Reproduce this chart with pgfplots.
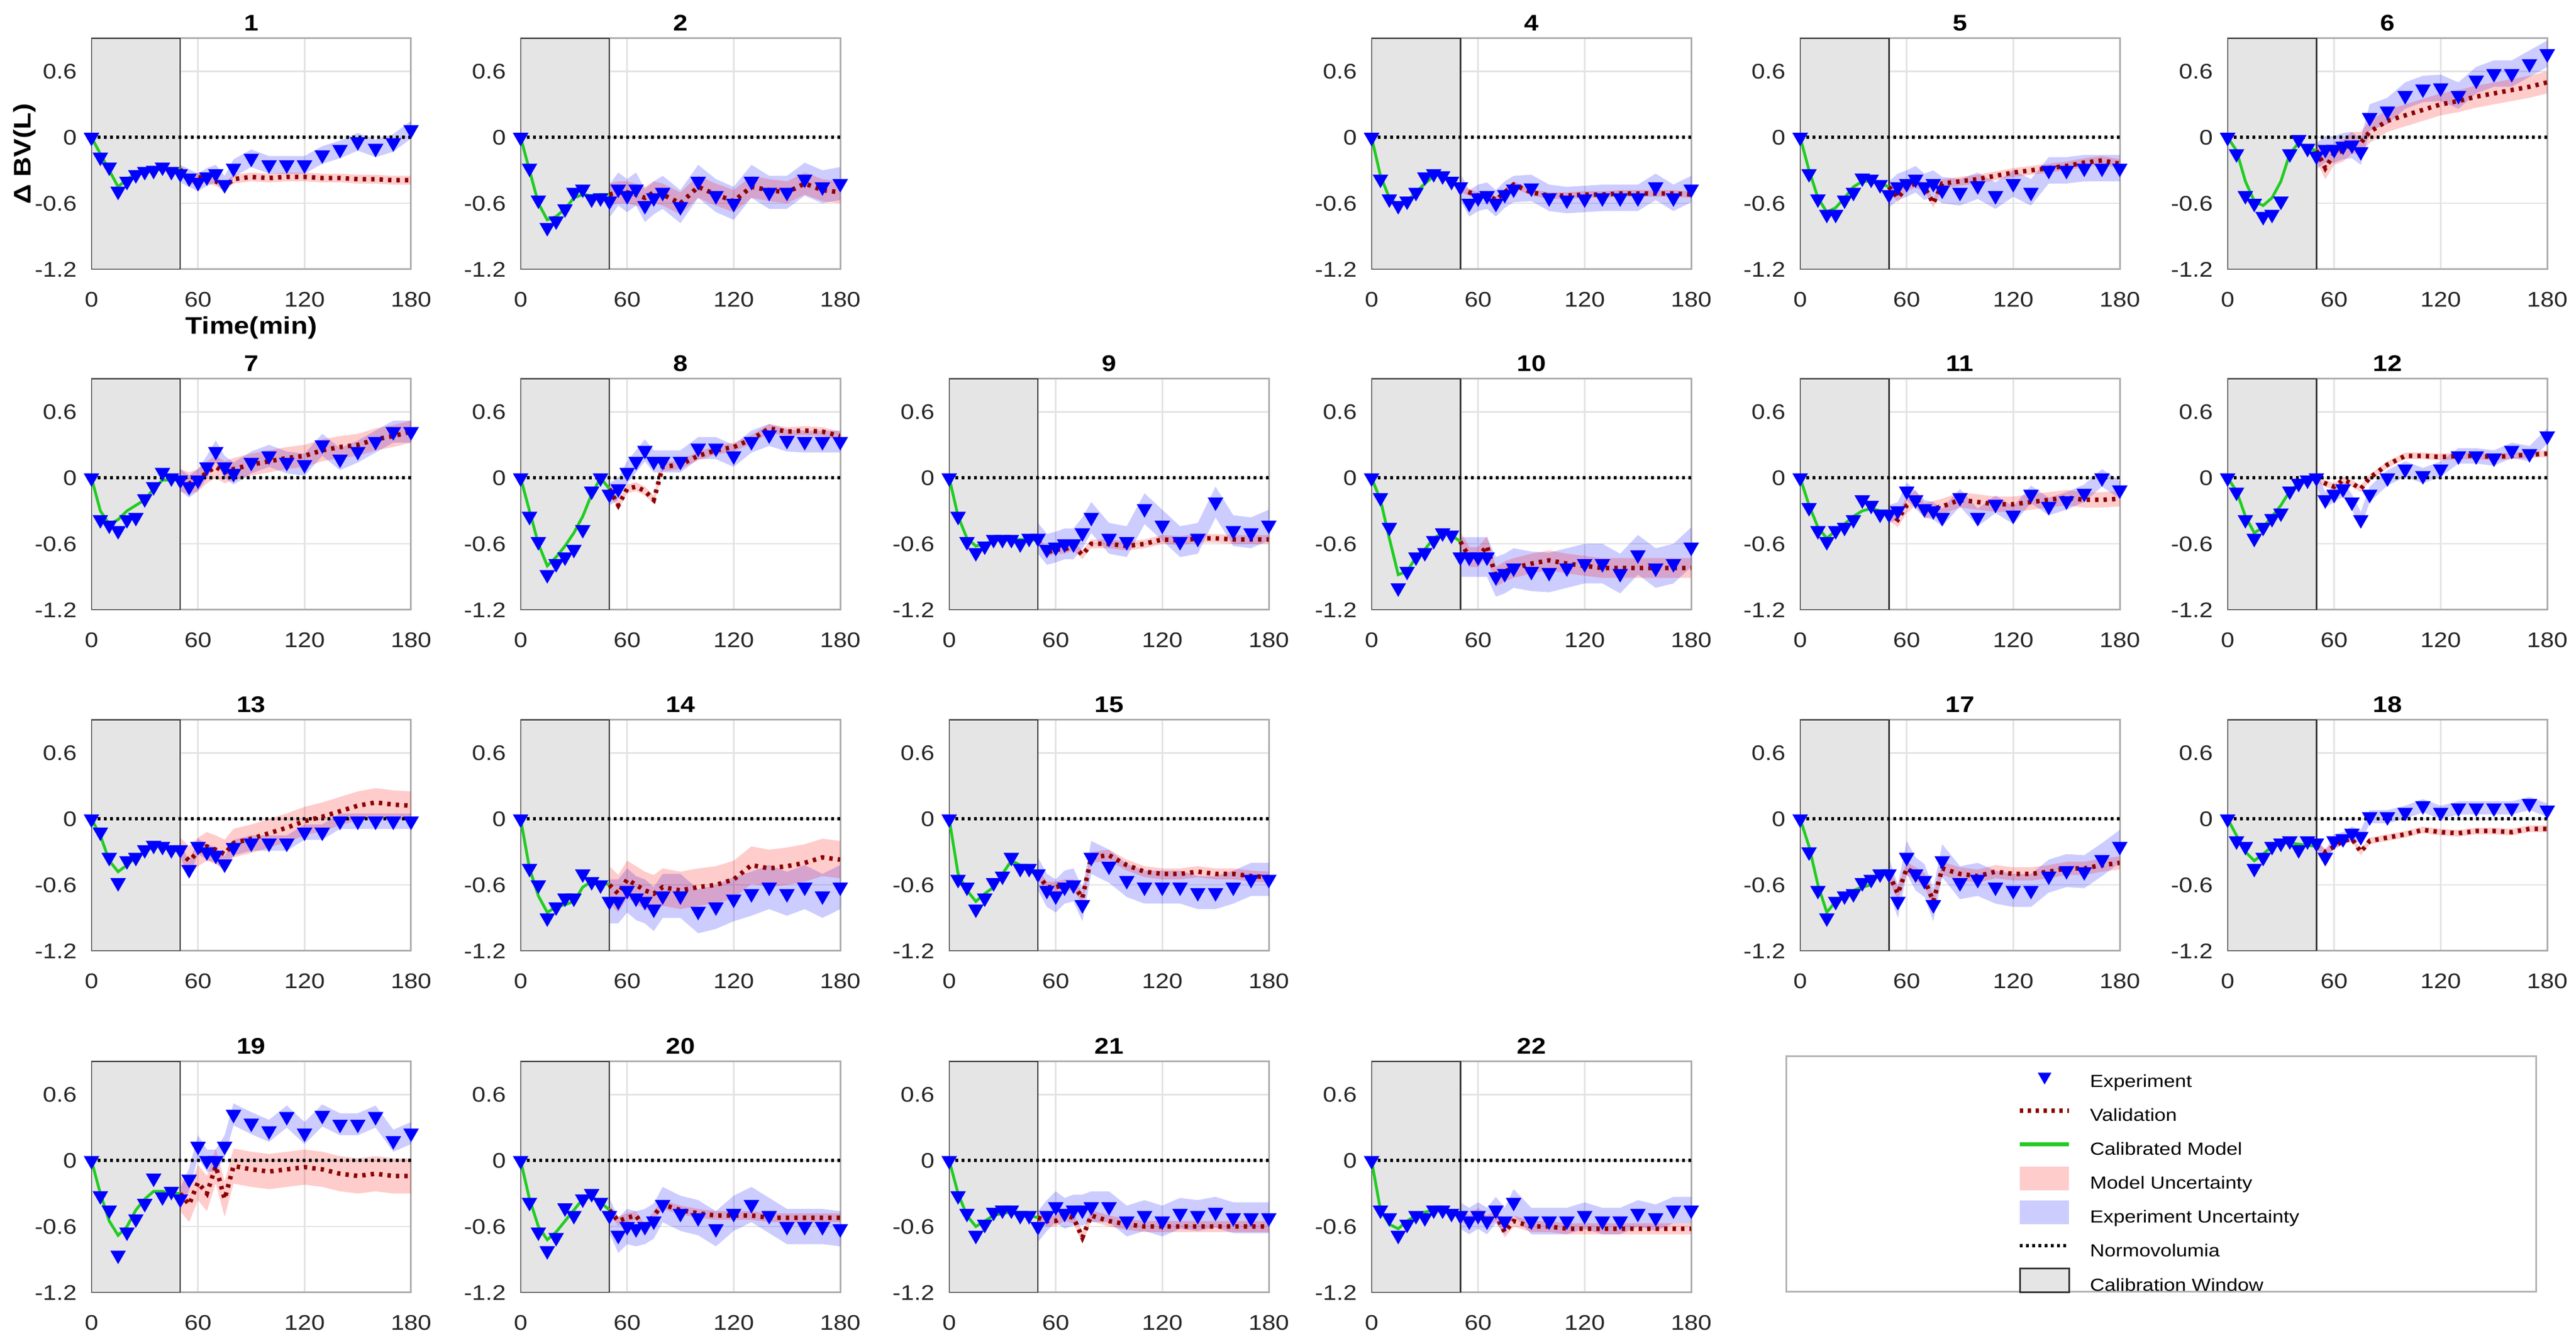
\documentclass[border=0pt]{standalone}
\usepackage{fontspec}
\setmainfont{Liberation Sans}[FakeStretch=1.15]
\usepackage{pgfplots}
\pgfplotsset{compat=1.18}
\usepackage{pgfplotstable}
\usepgfplotslibrary{fillbetween}
\definecolor{calgreen}{rgb}{0.13,0.8,0.13}
\definecolor{valred}{rgb}{0.55,0,0}
\definecolor{wingray}{gray}{0.9}
\definecolor{tickgray}{gray}{0.15}

\pgfplotstableread[row sep=\\]{t e m\\
0 0 0\\5 -.18 -.15\\10 -.27 -.30\\15 -.49 -.45\\20 -.40 -.38\\25 -.34 -.33\\30 -.31 -.31\\35 -.30 -.30\\40 -.27 -.29\\45 -.31 -.29\\50 -.33 -.29\\55 -.37 -.40\\60 -.41 -.36\\65 -.36 -.38\\70 -.33 -.40\\75 -.43 -.45\\80 -.28 -.38\\90 -.19 -.36\\100 -.25 -.37\\110 -.25 -.36\\120 -.25 -.36\\130 -.16 -.37\\140 -.11 -.37\\150 -.04 -.38\\160 -.10 -.38\\170 -.05 -.39\\180 .07 -.39\\
}\tabA
\pgfplotstableread[row sep=\\]{t e m\\
0 0 0\\5 -.28 -.30\\10 -.57 -.60\\15 -.82 -.75\\20 -.76 -.72\\25 -.65 -.65\\30 -.50 -.55\\35 -.47 -.52\\40 -.56 -.53\\45 -.55 -.52\\50 -.58 -.52\\55 -.47 -.50\\60 -.53 -.50\\65 -.47 -.52\\70 -.62 -.55\\75 -.55 -.50\\80 -.50 -.52\\90 -.63 -.60\\100 -.40 -.45\\110 -.53 -.52\\120 -.60 -.58\\130 -.40 -.45\\140 -.50 -.48\\150 -.50 -.50\\160 -.38 -.42\\170 -.45 -.48\\180 -.42 -.50\\
}\tabB
\pgfplotstableread[row sep=\\]{t e m\\
0 0 0\\5 -.38 -.35\\10 -.56 -.55\\15 -.62 -.62\\20 -.58 -.58\\25 -.50 -.50\\30 -.36 -.42\\35 -.33 -.35\\40 -.35 -.33\\45 -.40 -.40\\50 -.45 -.47\\55 -.60 -.50\\60 -.55 -.53\\65 -.53 -.52\\70 -.60 -.57\\75 -.52 -.50\\80 -.47 -.43\\90 -.46 -.50\\100 -.55 -.53\\110 -.57 -.53\\120 -.56 -.52\\130 -.55 -.52\\140 -.55 -.51\\150 -.55 -.51\\160 -.45 -.51\\170 -.55 -.51\\180 -.47 -.52\\
}\tabD
\pgfplotstableread[row sep=\\]{t e m\\
0 0 0\\5 -.33 -.30\\10 -.56 -.55\\15 -.70 -.68\\20 -.70 -.64\\25 -.57 -.55\\30 -.50 -.45\\35 -.37 -.40\\40 -.38 -.40\\45 -.43 -.42\\50 -.52 -.45\\55 -.45 -.55\\60 -.42 -.45\\65 -.38 -.42\\70 -.45 -.45\\75 -.42 -.60\\80 -.48 -.42\\90 -.50 -.40\\100 -.44 -.38\\110 -.53 -.35\\120 -.42 -.32\\130 -.50 -.30\\140 -.30 -.28\\150 -.30 -.26\\160 -.28 -.23\\170 -.28 -.21\\180 -.28 -.24\\
}\tabE
\pgfplotstableread[row sep=\\]{t e m\\
0 0 0\\5 -.15 -.12\\10 -.53 -.40\\15 -.60 -.58\\20 -.72 -.62\\25 -.70 -.55\\30 -.58 -.40\\35 -.15 -.15\\40 -.02 -.05\\45 -.10 -.10\\50 -.17 -.12\\55 -.11 -.28\\60 -.11 -.15\\65 -.08 -.12\\70 -.07 -.05\\75 -.13 -.05\\80 .18 .05\\90 .24 .15\\100 .38 .20\\110 .44 .25\\120 .45 .30\\130 .38 .33\\140 .52 .37\\150 .58 .40\\160 .58 .43\\170 .67 .46\\180 .76 .50\\
}\tabF
\pgfplotstableread[row sep=\\]{t e m\\
0 0 0\\5 -.38 -.30\\10 -.43 -.42\\15 -.48 -.38\\20 -.38 -.30\\25 -.36 -.25\\30 -.19 -.20\\35 -.08 -.10\\40 .05 -.02\\45 0 -.02\\50 -.02 -.02\\55 -.08 -.05\\60 -.02 -.02\\65 .10 .05\\70 .24 .10\\75 .10 .05\\80 .04 .08\\90 .14 .12\\100 .20 .15\\110 .14 .18\\120 .12 .20\\130 .30 .25\\140 .17 .28\\150 .24 .30\\160 .33 .35\\170 .42 .38\\180 .42 .42\\
}\tabG
\pgfplotstableread[row sep=\\]{t e m\\
0 0 0\\5 -.35 -.30\\10 -.58 -.60\\15 -.88 -.80\\20 -.78 -.72\\25 -.72 -.62\\30 -.65 -.50\\35 -.47 -.35\\40 -.12 -.15\\45 0 0\\50 -.15 -.10\\55 -.10 -.25\\60 .05 -.10\\65 .15 -.08\\70 .25 -.12\\75 .15 -.20\\80 .15 .10\\90 .15 .12\\100 .27 .20\\110 .27 .25\\120 .20 .28\\130 .33 .35\\140 .39 .45\\150 .34 .42\\160 .33 .43\\170 .33 .42\\180 .33 .38\\
}\tabH
\pgfplotstableread[row sep=\\]{t e m\\
0 0 0\\5 -.35 -.35\\10 -.58 -.55\\15 -.68 -.62\\20 -.62 -.60\\25 -.56 -.57\\30 -.56 -.56\\35 -.56 -.56\\40 -.60 -.56\\45 -.55 -.56\\50 -.55 -.57\\55 -.65 -.68\\60 -.63 -.65\\65 -.60 -.65\\70 -.60 -.62\\75 -.50 -.70\\80 -.36 -.60\\90 -.55 -.60\\100 -.58 -.62\\110 -.28 -.60\\120 -.43 -.56\\130 -.58 -.57\\140 -.55 -.55\\150 -.22 -.55\\160 -.48 -.56\\170 -.50 -.56\\180 -.43 -.56\\
}\tabI
\pgfplotstableread[row sep=\\]{t e m\\
0 0 0\\5 -.18 -.20\\10 -.45 -.55\\15 -1.00 -.88\\20 -.85 -.85\\25 -.72 -.72\\30 -.68 -.65\\35 -.57 -.55\\40 -.50 -.50\\45 -.52 -.52\\50 -.72 -.58\\55 -.72 -.72\\60 -.72 -.72\\65 -.72 -.62\\70 -.90 -.90\\75 -.87 -.85\\80 -.82 -.82\\90 -.85 -.78\\100 -.86 -.75\\110 -.82 -.78\\120 -.78 -.80\\130 -.78 -.82\\140 -.87 -.82\\150 -.70 -.82\\160 -.82 -.82\\170 -.78 -.82\\180 -.63 -.82\\
}\tabJ
\pgfplotstableread[row sep=\\]{t e m\\
0 0 0\\5 -.27 -.25\\10 -.48 -.45\\15 -.58 -.55\\20 -.48 -.48\\25 -.45 -.42\\30 -.38 -.35\\35 -.20 -.30\\40 -.25 -.28\\45 -.33 -.30\\50 -.33 -.32\\55 -.30 -.38\\60 -.12 -.25\\65 -.20 -.18\\70 -.28 -.30\\75 -.30 -.28\\80 -.36 -.26\\90 -.18 -.20\\100 -.36 -.22\\110 -.24 -.24\\120 -.34 -.24\\130 -.15 -.22\\140 -.26 -.20\\150 -.21 -.18\\160 -.14 -.20\\170 0 -.20\\180 -.11 -.19\\
}\tabK
\pgfplotstableread[row sep=\\]{t e m\\
0 0 0\\5 -.13 -.12\\10 -.38 -.35\\15 -.55 -.50\\20 -.45 -.45\\25 -.37 -.35\\30 -.32 -.25\\35 -.12 -.12\\40 -.05 -.05\\45 -.02 -.02\\50 0 -.01\\55 -.20 -.05\\60 -.15 -.08\\65 -.10 -.02\\70 -.22 -.05\\75 -.38 -.10\\80 -.15 0\\90 0 .12\\100 .08 .20\\110 .02 .20\\120 .08 .19\\130 .20 .20\\140 .20 .20\\150 .18 .19\\160 .25 .20\\170 .22 .21\\180 .38 .22\\
}\tabL
\pgfplotstableread[row sep=\\]{t e m\\
0 0 0\\5 -.12 -.15\\10 -.35 -.38\\15 -.58 -.48\\20 -.38 -.42\\25 -.35 -.35\\30 -.28 -.30\\35 -.24 -.25\\40 -.25 -.25\\45 -.28 -.28\\50 -.28 -.30\\55 -.46 -.38\\60 -.25 -.30\\65 -.30 -.25\\70 -.33 -.28\\75 -.41 -.32\\80 -.26 -.22\\90 -.22 -.18\\100 -.22 -.13\\110 -.22 -.08\\120 -.12 -.02\\130 -.12 .02\\140 -.02 .07\\150 -.02 .12\\160 -.02 .15\\170 -.02 .13\\180 -.02 .12\\
}\tabM
\pgfplotstableread[row sep=\\]{t e m\\
0 0 0\\5 -.45 -.45\\10 -.60 -.70\\15 -.90 -.85\\20 -.80 -.80\\25 -.72 -.78\\30 -.72 -.75\\35 -.50 -.62\\40 -.57 -.57\\45 -.60 -.57\\50 -.75 -.60\\55 -.75 -.68\\60 -.65 -.55\\65 -.72 -.60\\70 -.75 -.65\\75 -.82 -.68\\80 -.70 -.62\\90 -.70 -.65\\100 -.84 -.62\\110 -.80 -.60\\120 -.73 -.55\\130 -.68 -.42\\140 -.62 -.45\\150 -.68 -.43\\160 -.62 -.40\\170 -.70 -.35\\180 -.62 -.37\\
}\tabN
\pgfplotstableread[row sep=\\]{t e m\\
0 0 0\\5 -.55 -.50\\10 -.62 -.65\\15 -.82 -.75\\20 -.72 -.68\\25 -.58 -.62\\30 -.52 -.50\\35 -.35 -.38\\40 -.45 -.42\\45 -.45 -.48\\50 -.50 -.50\\55 -.65 -.62\\60 -.70 -.62\\65 -.62 -.60\\70 -.60 -.60\\75 -.78 -.72\\80 -.35 -.35\\90 -.43 -.33\\100 -.56 -.42\\110 -.62 -.48\\120 -.62 -.50\\130 -.62 -.50\\140 -.67 -.48\\150 -.67 -.50\\160 -.62 -.50\\170 -.55 -.52\\180 -.55 -.53\\
}\tabO
\pgfplotstableread[row sep=\\]{t e m\\
0 0 0\\5 -.30 -.25\\10 -.65 -.60\\15 -.90 -.85\\20 -.75 -.75\\25 -.70 -.68\\30 -.68 -.65\\35 -.58 -.62\\40 -.55 -.60\\45 -.50 -.48\\50 -.50 -.50\\55 -.75 -.68\\60 -.35 -.45\\65 -.50 -.50\\70 -.56 -.55\\75 -.78 -.75\\80 -.38 -.45\\90 -.58 -.50\\100 -.55 -.52\\110 -.62 -.48\\120 -.65 -.50\\130 -.65 -.50\\140 -.52 -.48\\150 -.47 -.45\\160 -.48 -.45\\170 -.37 -.42\\180 -.25 -.40\\
}\tabQ
\pgfplotstableread[row sep=\\]{t e m\\
0 0 0\\5 -.20 -.15\\10 -.25 -.30\\15 -.45 -.38\\20 -.35 -.32\\25 -.25 -.25\\30 -.22 -.22\\35 -.20 -.22\\40 -.28 -.23\\45 -.20 -.24\\50 -.22 -.25\\55 -.35 -.30\\60 -.20 -.25\\65 -.18 -.20\\70 -.13 -.18\\75 -.16 -.30\\80 .02 -.20\\90 .02 -.17\\100 .06 -.14\\110 .12 -.10\\120 .06 -.12\\130 .10 -.13\\140 .10 -.11\\150 .10 -.11\\160 .10 -.12\\170 .14 -.09\\180 .08 -.09\\
}\tabR
\pgfplotstableread[row sep=\\]{t e m\\
0 0 0\\5 -.32 -.30\\10 -.45 -.55\\15 -.86 -.68\\20 -.65 -.60\\25 -.53 -.45\\30 -.39 -.35\\35 -.16 -.28\\40 -.33 -.28\\45 -.28 -.30\\50 -.35 -.30\\55 -.17 -.40\\60 .13 -.20\\65 0 -.30\\70 0 -.05\\75 .13 -.35\\80 .42 -.05\\90 .34 -.08\\100 .27 -.10\\110 .40 -.08\\120 .25 -.06\\130 .41 -.08\\140 .33 -.12\\150 .33 -.14\\160 .40 -.12\\170 .18 -.14\\180 .25 -.14\\
}\tabS
\pgfplotstableread[row sep=\\]{t e m\\
0 0 0\\5 -.38 -.35\\10 -.65 -.60\\15 -.82 -.72\\20 -.70 -.65\\25 -.43 -.55\\30 -.50 -.45\\35 -.35 -.35\\40 -.30 -.33\\45 -.38 -.38\\50 -.50 -.45\\55 -.68 -.55\\60 -.60 -.52\\65 -.62 -.50\\70 -.60 -.62\\75 -.55 -.50\\80 -.40 -.40\\90 -.48 -.45\\100 -.52 -.48\\110 -.62 -.50\\120 -.48 -.50\\130 -.40 -.50\\140 -.50 -.52\\150 -.60 -.52\\160 -.60 -.52\\170 -.60 -.52\\180 -.62 -.52\\
}\tabT
\pgfplotstableread[row sep=\\]{t e m\\
0 0 0\\5 -.32 -.30\\10 -.48 -.50\\15 -.68 -.60\\20 -.58 -.55\\25 -.47 -.50\\30 -.45 -.48\\35 -.45 -.47\\40 -.50 -.47\\45 -.50 -.50\\50 -.60 -.52\\55 -.50 -.55\\60 -.42 -.55\\65 -.48 -.50\\70 -.45 -.52\\75 -.45 -.70\\80 -.42 -.50\\90 -.42 -.55\\100 -.55 -.58\\110 -.50 -.60\\120 -.55 -.60\\130 -.48 -.60\\140 -.50 -.60\\150 -.47 -.60\\160 -.52 -.60\\170 -.52 -.60\\180 -.52 -.60\\
}\tabU
\pgfplotstableread[row sep=\\]{t e m\\
0 0 0\\5 -.45 -.45\\10 -.52 -.58\\15 -.68 -.62\\20 -.58 -.55\\25 -.50 -.50\\30 -.52 -.47\\35 -.45 -.45\\40 -.45 -.45\\45 -.48 -.48\\50 -.50 -.50\\55 -.55 -.55\\60 -.50 -.48\\65 -.55 -.55\\70 -.45 -.50\\75 -.55 -.65\\80 -.38 -.55\\90 -.55 -.60\\100 -.55 -.60\\110 -.55 -.62\\120 -.50 -.62\\130 -.55 -.62\\140 -.55 -.62\\150 -.48 -.62\\160 -.52 -.62\\170 -.45 -.62\\180 -.45 -.62\\
}\tabV

\pgfplotsset{
  every axis title shift=0pt,
  panel/.style={
    scale only axis, width=113.2pt, height=81.8pt, anchor=north west,
    xmin=0, xmax=180, ymin=-1.2, ymax=0.9,
    xtick={0,60,120,180}, xticklabels={0,60,120,180},
    ytick={-1.2,-0.6,0,0.6}, yticklabels={-1.2,-0.6,0,0.6},
    grid=major, major grid style={gray!22, line width=0.5pt},
    axis line style={gray!65, line width=0.6pt},
    tick style={draw=none},
    tick label style={font=\fontsize{7.5}{9}\selectfont, text=tickgray},
    xticklabel style={yshift=-4.5pt},
    yticklabel style={xshift=-1.7pt},
    title style={font=\bfseries\fontsize{8}{9.6}\selectfont, inner sep=2.4pt},
  }
}

% [#1] extra options, #2 title, #3 position, #4 table, #5 exp half width, #6 model half width
\newcommand{\panel}[6][]{%
\begin{axis}[panel, at={(#3)}, title={#2}, #1]
\addplot[fill=wingray, draw=black!80, line width=0.5pt] coordinates {(0,-1.2) (0,0.9) (50,0.9) (50,-1.2)} -- cycle;
\addplot[name path=eu, draw=none] table[x=t, y expr=\thisrow{e}+#5] {#4};
\addplot[name path=el, draw=none] table[x=t, y expr=\thisrow{e}-#5] {#4};
\addplot[fill=blue, fill opacity=0.2, draw=none] fill between[of=eu and el];
\addplot[name path=mu, draw=none, restrict x to domain=50:180] table[x=t, y expr=\thisrow{m}+#6] {#4};
\addplot[name path=ml, draw=none, restrict x to domain=50:180] table[x=t, y expr=\thisrow{m}-#6] {#4};
\addplot[fill=red, fill opacity=0.2, draw=none] fill between[of=mu and ml];
\addplot[black, line width=1.2pt, dash pattern=on 0.9pt off 1.3pt] coordinates {(0,0) (180,0)};
\addplot[calgreen, line width=1pt, restrict x to domain=0:50] table[x=t, y=m] {#4};
\addplot[valred, line width=1.6pt, dash pattern=on 1.2pt off 1.8pt, restrict x to domain=50:180] table[x=t, y=m] {#4};
\addplot[only marks, mark=triangle*, mark size=2.8pt, mark options={rotate=180, fill=blue, draw=blue, solid}] table[x=t, y=e] {#4};
\end{axis}}

\begin{document}
\begin{tikzpicture}
% row 1
\panel[xlabel={Time(min)}, ylabel={Δ BV(L)},
  xlabel style={at={(axis description cs:0.5,-0.254)}, anchor=center, font=\bfseries\fontsize{8.5}{10}\selectfont},
  ylabel style={at={(axis description cs:-0.21,0.5)}, anchor=center, font=\bfseries\fontsize{8.5}{10}\selectfont}]
  {1}{32.4pt,459.6pt}{\tabA}{.08}{.04}
\panel{2}{184.4pt,459.6pt}{\tabB}{.15}{.10}
\panel{4}{485.8pt,459.6pt}{\tabD}{.12}{.03}
\panel{5}{637.6pt,459.6pt}{\tabE}{.12}{.04}
\panel{6}{789.0pt,459.6pt}{\tabF}{.12}{.10}
% row 2
\panel{7}{32.4pt,339.0pt}{\tabG}{.10}{.10}
\panel{8}{184.4pt,339.0pt}{\tabH}{.10}{.04}
\panel{9}{336.2pt,339.0pt}{\tabI}{.14}{.04}
\panel{10}{485.8pt,339.0pt}{\tabJ}{.18}{.09}
\panel{11}{637.6pt,339.0pt}{\tabK}{.08}{.07}
\panel{12}{789.0pt,339.0pt}{\tabL}{.07}{.03}
% row 3
\panel{13}{32.4pt,218.2pt}{\tabM}{.07}{.13}
\panel{14}{184.4pt,218.2pt}{\tabN}{.20}{.17}
\panel{15}{336.2pt,218.2pt}{\tabO}{.15}{.05}
\panel{17}{637.6pt,218.2pt}{\tabQ}{.15}{.06}
\panel{18}{789.0pt,218.2pt}{\tabR}{.06}{.03}
% row 4
\panel{19}{32.4pt,97.2pt}{\tabS}{.10}{.16}
\panel{20}{184.4pt,97.2pt}{\tabT}{.16}{.04}
\panel{21}{336.2pt,97.2pt}{\tabU}{.14}{.05}
\panel{22}{485.8pt,97.2pt}{\tabV}{.12}{.05}
% legend
\begin{axis}[scale only axis, width=265.6pt, height=83.4pt, at={(632.6pt,15.6pt)}, anchor=south west,
  xmin=0, xmax=1, ymin=0, ymax=1, xtick=\empty, ytick=\empty,
  axis line style={gray!60, line width=0.6pt},
  legend cell align=left,
  legend style={at={(0.309,0.965)}, anchor=north west, draw=none, fill=none, inner sep=0pt, outer sep=0pt,
    font=\fontsize{6.2}{7.4}\selectfont, row sep=2.5pt, column sep=6.6pt, nodes={inner sep=0pt}}]
\addlegendimage{legend image code/.code={\path[draw=none, fill=none] (0pt,-1.9pt) rectangle (17.4pt,6.5pt);
  \path[draw=blue, fill=blue] plot[mark=triangle*, mark size=2.4pt, mark options={rotate=180, draw=blue, fill=blue}] coordinates {(8.7pt,2.3pt)};}}
\addlegendentry{Experiment}
\addlegendimage{legend image code/.code={\path[draw=none, fill=none] (0pt,-1.9pt) rectangle (17.4pt,6.5pt);
  \draw[valred, line width=1.6pt, dash pattern=on 1.2pt off 1.6pt] (0pt,2.3pt) -- (17.4pt,2.3pt);}}
\addlegendentry{Validation}
\addlegendimage{legend image code/.code={\path[draw=none, fill=none] (0pt,-1.9pt) rectangle (17.4pt,6.5pt);
  \draw[calgreen, line width=1.3pt] (0pt,2.3pt) -- (17.4pt,2.3pt);}}
\addlegendentry{Calibrated Model}
\addlegendimage{legend image code/.code={\path[draw=none, fill=red!20] (0pt,-1.9pt) rectangle (17.4pt,6.5pt);}}
\addlegendentry{Model Uncertainty}
\addlegendimage{legend image code/.code={\path[draw=none, fill=blue!20] (0pt,-1.9pt) rectangle (17.4pt,6.5pt);}}
\addlegendentry{Experiment Uncertainty}
\addlegendimage{legend image code/.code={\path[draw=none, fill=none] (0pt,-1.9pt) rectangle (17.4pt,6.5pt);
  \draw[black, line width=1.2pt, dash pattern=on 0.9pt off 1.3pt] (0pt,2.3pt) -- (17.4pt,2.3pt);}}
\addlegendentry{Normovolumia}
\addlegendimage{legend image code/.code={\path[fill=wingray, draw=black!80, line width=0.6pt] (0pt,-1.9pt) rectangle (17.4pt,6.5pt);}}
\addlegendentry{Calibration Window}
\end{axis}
\pgfresetboundingbox
\path[use as bounding box] (0,0) rectangle (912.4pt,473.2pt);
\end{tikzpicture}
\end{document}
